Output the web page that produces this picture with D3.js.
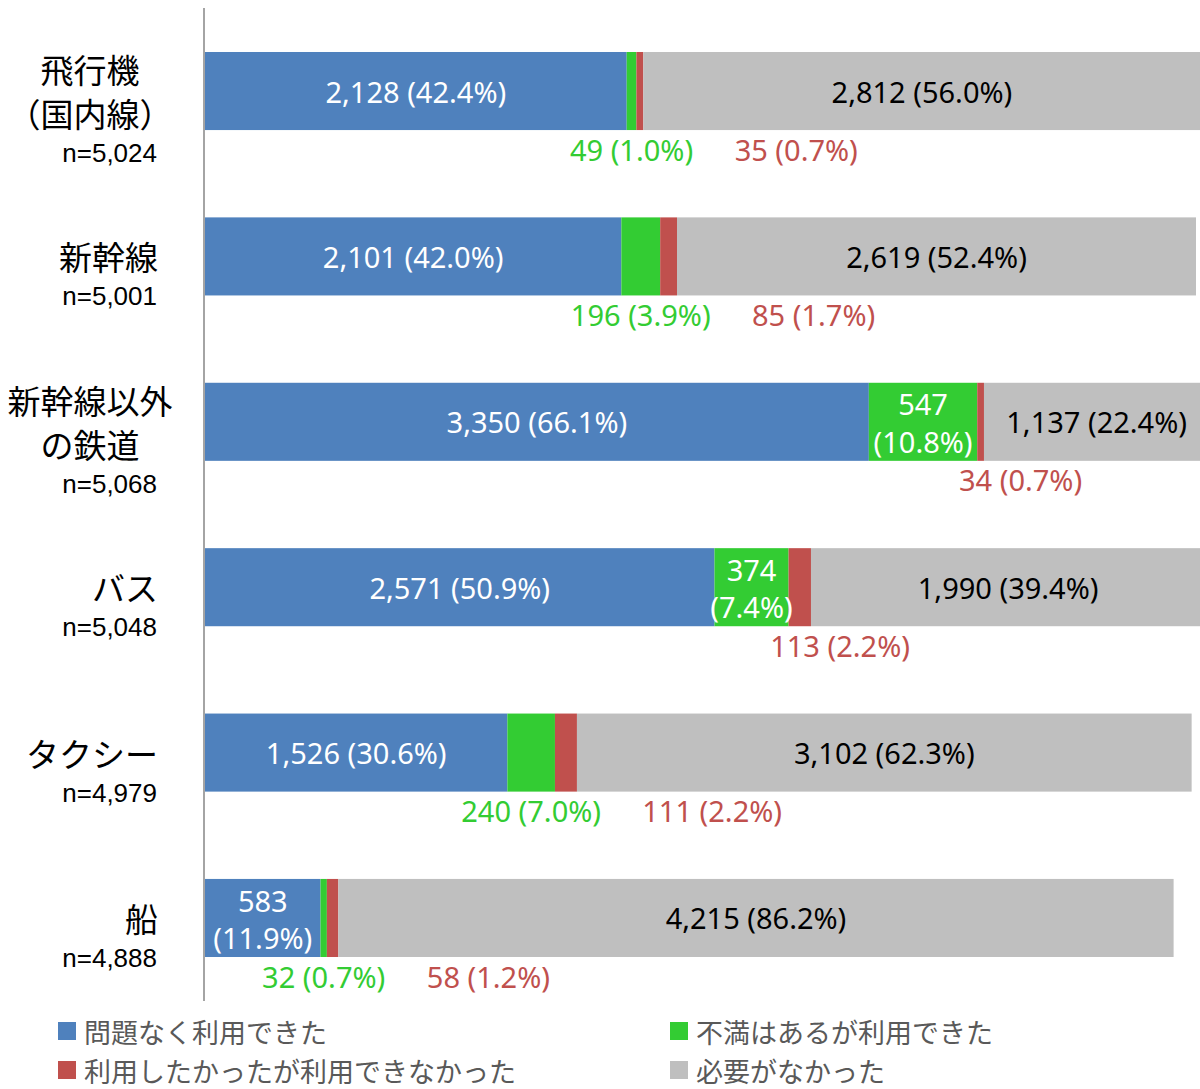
<!DOCTYPE html>
<html>
<head>
<meta charset="utf-8">
<script src="https://cdn.jsdelivr.net/npm/d3@7"></script>
<style>
  body { margin: 0; background: #fff; }
  svg { display: block; }
</style>
</head>
<body>
<svg id="chart"></svg>
<script>
// ----- Data
const categories = ["飛行機\n（国内線）", "新幹線", "新幹線以外\nの鉄道", "バス", "タクシー", "船"];
const sample_sizes = ["n=5,024", "n=5,001", "n=5,068", "n=5,048", "n=4,979", "n=4,888"];
const series_names = ["問題なく利用できた", "不満はあるが利用できた", "利用したかったが利用できなかった", "必要がなかった"];
const ok_values = [2128, 2101, 3350, 2571, 1526, 583];
const ok_pct = ["42.4%", "42.0%", "66.1%", "50.9%", "30.6%", "11.9%"];
const unhappy_values = [49, 196, 547, 374, 240, 32];
const unhappy_pct = ["1.0%", "3.9%", "10.8%", "7.4%", "7.0%", "0.7%"];
const blocked_values = [35, 85, 34, 113, 111, 58];
const blocked_pct = ["0.7%", "1.7%", "0.7%", "2.2%", "2.2%", "1.2%"];
const none_values = [2812, 2619, 1137, 1990, 3102, 4215];
const none_pct = ["56.0%", "52.4%", "22.4%", "39.4%", "62.3%", "86.2%"];

const series_colors = ["#4F81BD", "#33CC33", "#C0504D", "#BFBFBF"];

// ----- Layout
const width = 1200, height = 1089;
const num_font = "'Noto Sans', sans-serif";
const jp_font = "'Noto Sans CJK JP', sans-serif";

const svg = d3.select("#chart").attr("width", width).attr("height", height);

const x_scale = d3.scaleLinear().domain([0, 5000]).range([205, 1195.8]);
const y_scale = d3.scaleBand()
    .domain(d3.range(categories.length))
    .range([8.5, 1000.5])
    .paddingInner(0.528)
    .paddingOuter(0.263);

// Build the stacked rows from the arrays
const rows = categories.map((c, i) => {
    const vals = [ok_values[i], unhappy_values[i], blocked_values[i], none_values[i]];
    const pcts = [ok_pct[i], unhappy_pct[i], blocked_pct[i], none_pct[i]];
    let acc = 0;
    return vals.map((v, k) => {
        const s = { row: i, k: k, v: v, pct: pcts[k], x0: acc, x1: acc + v };
        acc += v;
        return s;
    });
});
const segments = rows.flat();

// Bars
svg.append("g").selectAll("rect")
    .data(segments)
    .join("rect")
    .attr("x", d => x_scale(d.x0))
    .attr("y", d => y_scale(d.row))
    .attr("width", d => x_scale(d.x1) - x_scale(d.x0))
    .attr("height", y_scale.bandwidth())
    .attr("fill", d => series_colors[d.k]);

// Vertical axis line
svg.append("line")
    .attr("x1", 204).attr("x2", 204)
    .attr("y1", 8).attr("y2", 1001)
    .attr("stroke", "#868686").attr("stroke-width", 1.5);

// Value labels
const fmt = d3.format(",");
const label_g = svg.append("g").style("font-family", num_font).style("font-size", "29px");
const text_colors_in = ["#fff", "#fff", "#fff", "#000"];
const char_w = 16.3; // rough width of one label character at 29px

rows.forEach((segs, i) => {
    const yc = y_scale(i) + y_scale.bandwidth() / 2;
    let last_right = -Infinity;
    segs.forEach(s => {
        const w = x_scale(s.x1) - x_scale(s.x0);
        const cx = (x_scale(s.x0) + x_scale(s.x1)) / 2;
        const one_line = fmt(s.v) + " (" + s.pct + ")";
        const est = one_line.length * char_w;
        if (w >= est + 8) {
            label_g.append("text")
                .attr("x", cx).attr("y", yc)
                .attr("text-anchor", "middle").attr("dominant-baseline", "central")
                .attr("fill", text_colors_in[s.k])
                .text(one_line);
        } else if (w >= 60) {
            const t = label_g.append("text")
                .attr("x", cx).attr("y", yc)
                .attr("text-anchor", "middle")
                .attr("fill", text_colors_in[s.k]);
            t.append("tspan").attr("x", cx).attr("dy", "-0.22em").text(fmt(s.v));
            t.append("tspan").attr("x", cx).attr("dy", "1.28em").text("(" + s.pct + ")");
        } else {
            // outside, below the bar, kept clear of the previous outside label
            let left = s.k === 1 ? cx - est / 2 : Math.max(last_right + 18, x_scale(s.x0) - 30);
            if (left < last_right + 18) left = last_right + 18;
            last_right = left + est;
            label_g.append("text")
                .attr("x", left + est / 2)
                .attr("y", y_scale(i) + y_scale.bandwidth() + 19)
                .attr("text-anchor", "middle").attr("dominant-baseline", "central")
                .attr("fill", series_colors[s.k])
                .text(one_line);
        }
    });
});

// Category labels
const cat_g = svg.append("g");
categories.forEach((c, i) => {
    const yc = y_scale(i) + y_scale.bandwidth() / 2;
    const lines = c.split("\n");
    const lh = 44;
    const first_y = yc - (lines.length - 1) * lh / 2;
    const t = cat_g.append("text")
        .attr("y", first_y)
        .attr("text-anchor", lines.length > 1 ? "middle" : "end")
        .attr("dominant-baseline", "central")
        .style("font-family", jp_font)
        .style("font-size", "33px")
        .attr("fill", "#000");
    lines.forEach((ln, j) => {
        t.append("tspan")
            .attr("x", lines.length > 1 ? 90 : 158)
            .attr("dy", j === 0 ? 0 : lh)
            .text(ln);
    });
    cat_g.append("text")
        .attr("x", 157)
        .attr("y", first_y + (lines.length - 1) * lh + 40)
        .attr("text-anchor", "end")
        .attr("dominant-baseline", "central")
        .style("font-family", "'Liberation Sans', Arial, sans-serif")
        .style("font-size", "26px")
        .attr("fill", "#000")
        .text(sample_sizes[i]);
});

// Legend
const legend_pos = [[58, 1031], [670, 1031], [58, 1070], [670, 1070]];
const legend = svg.append("g").selectAll("g")
    .data(series_names)
    .join("g")
    .attr("transform", (d, i) => `translate(${legend_pos[i][0]}, ${legend_pos[i][1]})`);
legend.append("rect")
    .attr("x", 0).attr("y", -9)
    .attr("width", 18).attr("height", 18)
    .attr("fill", (d, i) => series_colors[i]);
legend.append("text")
    .attr("x", 26).attr("y", 0)
    .attr("dominant-baseline", "central")
    .style("font-family", jp_font)
    .style("font-size", "27px")
    .attr("fill", "#595959")
    .text(d => d);
</script>
</body>
</html>
